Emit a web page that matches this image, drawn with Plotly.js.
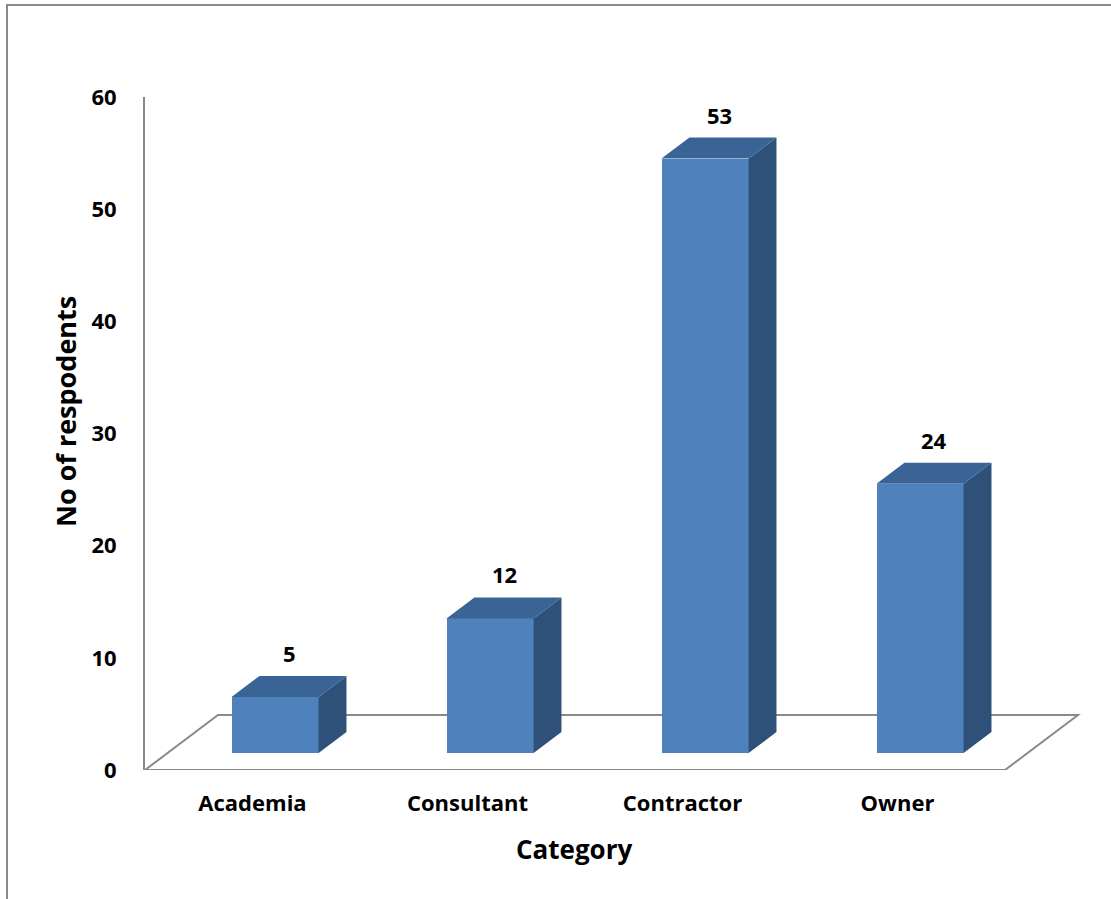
<!DOCTYPE html>
<html>
<head>
<meta charset="utf-8">
<script src="https://cdn.plot.ly/plotly-3.0.1.min.js"></script>
<style>
  html, body { margin: 0; padding: 0; background: #ffffff; }
  #wrap { position: relative; width: 1111px; height: 899px; overflow: hidden; }
  #chart { position: absolute; left: 0; top: 0; width: 1111px; height: 899px; }
  #frame { position: absolute; left: 6px; top: 4px; width: 1200px; height: 1000px;
           border-top: 2px solid #8a8a8a; border-left: 2px solid #8a8a8a; pointer-events: none; }
</style>
</head>
<body>
<div id="wrap">
  <div id="chart"></div>
  <div id="frame"></div>
</div>
<script>
// ---- data ----
const categories = ["Academia", "Consultant", "Contractor", "Owner"];
const respondents = [5, 12, 53, 24];
const yTicks = [0, 10, 20, 30, 40, 50, 60];
const xTitle = "Category";
const yTitle = "No of respodents";

// ---- 3D look (depth of the floor and of each bar, in axis units) ----
const floorDX = 0.3395, floorDY = 4.903;
const frontFrac = 0.309, backFrac = 0.691;
const barW = 0.405;
const ox1 = floorDX * frontFrac, oy1 = floorDY * frontFrac;
const ox2 = floorDX * backFrac,  oy2 = floorDY * backFrac;

const FRONT = "#4f81bd", TOPC = "#3b6496", SIDEC = "#2f5078", GRID = "#8a8a8a";
const FONT = "Open Sans";

const idx = categories.map((_, i) => i);
const n = categories.length;

// floor outline as a shape below the traces
const fx = [-0.5, n - 0.5, n - 0.5 + floorDX, -0.5 + floorDX];
const fy = [0, 0, floorDY, floorDY];
const floorPath = "M" + fx.map((x, k) => x + "," + fy[k]).join(" L") + " Z";

const sx = [], sy = [], tx = [], ty = [];
idx.forEach(i => {
  const v = respondents[i];
  const r1 = i + ox1 + barW / 2, r2 = i + ox2 + barW / 2;
  sx.push(r1, r2, r2, r1, r1, null);
  sy.push(oy1, oy2, oy2 + v, oy1 + v, oy1, null);
  const l1 = i + ox1 - barW / 2, l2 = i + ox2 - barW / 2;
  tx.push(l1, r1, r2, l2, l1, null);
  ty.push(oy1 + v, oy1 + v, oy2 + v, oy2 + v, oy1 + v, null);
});
const sideTrace = { type: "scatter", mode: "lines", x: sx, y: sy, fill: "toself", fillcolor: SIDEC,
  line: { width: 0, color: SIDEC }, hoverinfo: "skip", showlegend: false };
const topTrace = { type: "scatter", mode: "lines", x: tx, y: ty, fill: "toself", fillcolor: TOPC,
  line: { width: 0, color: TOPC }, hoverinfo: "skip", showlegend: false };

const frontTrace = {
  type: "bar", x: idx.map(i => i + ox1), y: respondents, base: oy1, width: barW,
  marker: { color: FRONT, line: { width: 0 } }, showlegend: false, hoverinfo: "y"
};

const annotations = idx.map(i => ({
  x: i + (ox1 + ox2) / 2, y: respondents[i] + oy2, text: String(respondents[i]),
  showarrow: false, yanchor: "middle", xanchor: "center", yshift: 23,
  font: { family: FONT, size: 22, color: "#000", weight: "bold" }
}));
annotations.push({
  xref: "paper", yref: "paper", x: 0.455, y: -0.1174, text: xTitle, showarrow: false,
  xanchor: "center", yanchor: "middle",
  font: { family: FONT, size: 26, color: "#000", weight: "bold" }
});
annotations.push({
  xref: "paper", yref: "paper", x: -0.0847, y: 0.5334, text: yTitle, showarrow: false,
  xanchor: "center", yanchor: "middle", textangle: -90,
  font: { family: FONT, size: 27, color: "#000", weight: "bold" }
});

const layout = {
  width: 1111, height: 899,
  margin: { l: 145, r: 21, t: 97, b: 129, pad: 0 },
  paper_bgcolor: "#ffffff", plot_bgcolor: "rgba(0,0,0,0)",
  showlegend: false,
  font: { family: FONT, color: "#000", weight: "bold" },
  xaxis: {
    range: [-0.5, -0.5 + 945 / 215], tickvals: idx, ticktext: categories,
    showgrid: false, zeroline: false, showline: false, ticks: "",
    ticklabelstandoff: 18,
    tickfont: { family: FONT, size: 22, color: "#000", weight: "bold" },
    fixedrange: true
  },
  yaxis: {
    range: [0, 60], tickvals: yTicks, ticktext: yTicks.map(String),
    showgrid: false, zeroline: false, showline: true, linecolor: GRID, linewidth: 2,
    ticks: "", ticklabelstandoff: 22,
    tickfont: { family: FONT, size: 22, color: "#000", weight: "bold" },
    fixedrange: true
  },
  shapes: [{
    type: "path", xref: "x", yref: "y", path: floorPath, layer: "below",
    line: { color: GRID, width: 2 }, fillcolor: "rgba(0,0,0,0)"
  }],
  annotations: annotations,
  bargap: 0
};

Plotly.newPlot("chart", [sideTrace, topTrace, frontTrace], layout, { displayModeBar: false, staticPlot: true });
</script>
</body>
</html>
